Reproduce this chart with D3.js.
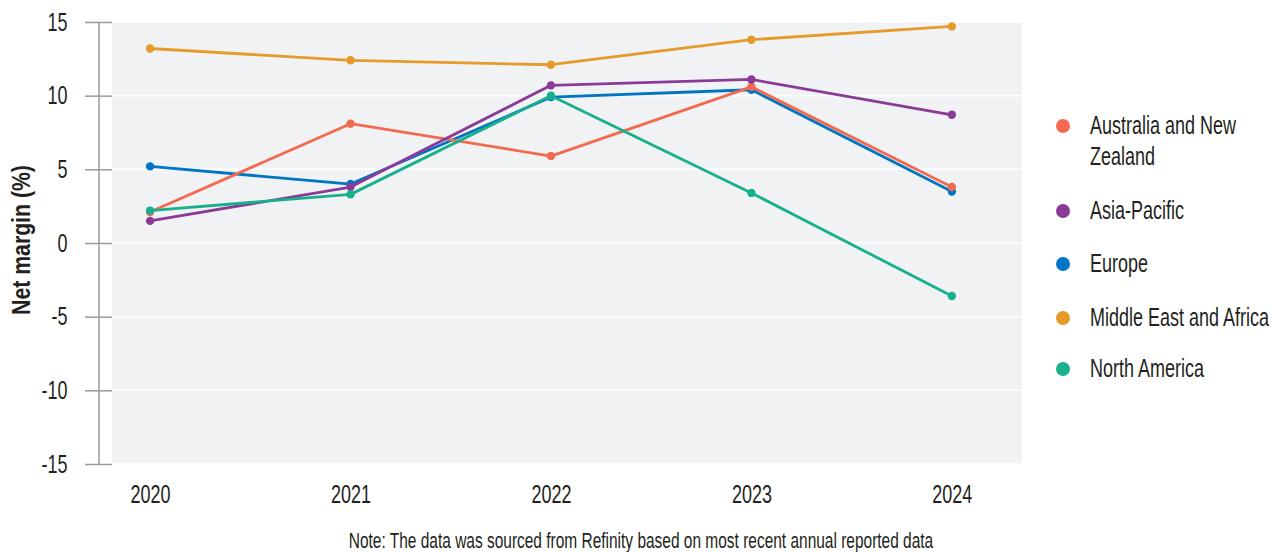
<!DOCTYPE html>
<html>
<head>
<meta charset="utf-8">
<script src="https://cdn.jsdelivr.net/npm/d3@7"></script>
<style>
  html, body { margin: 0; padding: 0; background: #fff; }
  svg { display: block; font-family: "Liberation Sans", Arial, sans-serif; }
</style>
</head>
<body>
<svg id="chart" width="1281" height="552"></svg>
<script>
// Net margin by region, 2020–2024 (%)
const years = [2020, 2021, 2022, 2023, 2024];
const regions = ["Australia and New Zealand", "Asia-Pacific", "Europe", "Middle East and Africa", "North America"];
const australiaNZ = [2.1, 8.1, 5.9, 10.6, 3.8];
const asiaPacific = [1.5, 3.8, 10.7, 11.1, 8.7];
const europe = [5.2, 4.0, 9.9, 10.4, 3.5];
const middleEastAfrica = [13.2, 12.4, 12.1, 13.8, 14.7];
const northAmerica = [2.2, 3.3, 10.0, 3.4, -3.6];
const yTicks = [-15, -10, -5, 0, 5, 10, 15];
const colors = ["#f26a4f", "#8b3a97", "#0075c4", "#e69a2a", "#17b08c"];

const seriesValues = [australiaNZ, asiaPacific, europe, middleEastAfrica, northAmerica];
const series = regions.map((name, i) => ({
  name, color: colors[i],
  points: years.map((y, j) => ({ year: y, value: seriesValues[i][j] }))
}));

// condensed look: horizontal squeeze of the sans face
const SQ = 0.72;
const FS = 25;

const svg = d3.select("#chart");
const plot = { left: 112, right: 1022, top: 22, bottom: 464 };

const x = d3.scaleLinear().domain([2019.81, 2024.35]).range([plot.left, plot.right]);
const y = d3.scaleLinear().domain([-15, 15]).range([plot.bottom, plot.top]);

// plot background
svg.append("rect")
  .attr("x", plot.left).attr("y", plot.top)
  .attr("width", plot.right - plot.left).attr("height", plot.bottom - plot.top)
  .attr("fill", "#f1f2f4");

// white horizontal gridlines
svg.append("g").selectAll("line").data(yTicks).join("line")
  .attr("x1", plot.left).attr("x2", plot.right)
  .attr("y1", d => y(d)).attr("y2", d => y(d))
  .attr("stroke", "#fff").attr("stroke-width", 1.5);

// y axis
const yAxis = svg.append("g")
  .attr("transform", `translate(98.5,0)`)
  .call(d3.axisLeft(y).tickValues(yTicks).tickFormat(d => String(d)).tickSize(0).tickPadding(31));
yAxis.select(".domain").attr("stroke", "#9a9a9a").attr("stroke-width", 1.5);
yAxis.selectAll(".tick text")
  .attr("font-size", FS).attr("fill", "#231f20").attr("font-family", null)
  .attr("x", -31 / SQ).attr("transform", `scale(${SQ},1)`);
yAxis.selectAll(".tick").append("line")
  .attr("x1", -13.5).attr("x2", 13.5)
  .attr("stroke", "#9a9a9a").attr("stroke-width", 1.5);

// x axis labels
const xAxis = svg.append("g")
  .attr("transform", `translate(0,${plot.bottom})`)
  .call(d3.axisBottom(x).tickValues(years).tickFormat(d3.format("d")).tickSize(0).tickPadding(21));
xAxis.select(".domain").remove();
xAxis.selectAll(".tick text")
  .attr("font-size", FS).attr("fill", "#231f20").attr("font-family", null)
  .attr("transform", `scale(${SQ},1)`);

// y axis title
svg.append("text")
  .attr("transform", `translate(30,${(plot.top + plot.bottom) / 2 - 3}) rotate(-90) scale(0.85,1)`)
  .attr("text-anchor", "middle")
  .attr("font-size", FS).attr("font-weight", "bold").attr("fill", "#231f20")
  .text("Net margin (%)");

// lines and markers
const line = d3.line().x(d => x(d.year)).y(d => y(d.value));
const drawOrder = [2, 0, 1, 3, 4];
const gSeries = svg.append("g").selectAll("g").data(drawOrder.map(i => series[i])).join("g");
gSeries.append("path")
  .attr("d", d => line(d.points))
  .attr("fill", "none").attr("stroke", d => d.color).attr("stroke-width", 2.8)
  .attr("stroke-linejoin", "round");
gSeries.selectAll("circle").data(d => d.points.map(p => ({ ...p, color: d.color }))).join("circle")
  .attr("cx", d => x(d.year)).attr("cy", d => y(d.value)).attr("r", 4.2)
  .attr("fill", d => d.color);

// legend
const legendY = [126, 211, 264, 318, 369];
const legend = svg.append("g").selectAll("g").data(series).join("g")
  .attr("transform", (d, i) => `translate(1063,${legendY[i]})`);
legend.append("circle").attr("r", 7).attr("fill", d => d.color);
legend.append("text")
  .attr("transform", `translate(27,0) scale(${SQ},1)`)
  .attr("font-size", FS).attr("fill", "#231f20")
  .each(function (d) {
    const t = d3.select(this);
    const lines = d.name === "Australia and New Zealand" ? ["Australia and New", "Zealand"] : [d.name];
    lines.forEach((l, k) => t.append("tspan").attr("x", 0).attr("y", k * 31 + 8).text(l));
  });

// source note
svg.append("text")
  .attr("transform", `translate(641,548) scale(${SQ},1)`)
  .attr("text-anchor", "middle").attr("font-size", 21.5).attr("fill", "#231f20")
  .text("Note: The data was sourced from Refinity based on most recent annual reported data");
</script>
</body>
</html>
